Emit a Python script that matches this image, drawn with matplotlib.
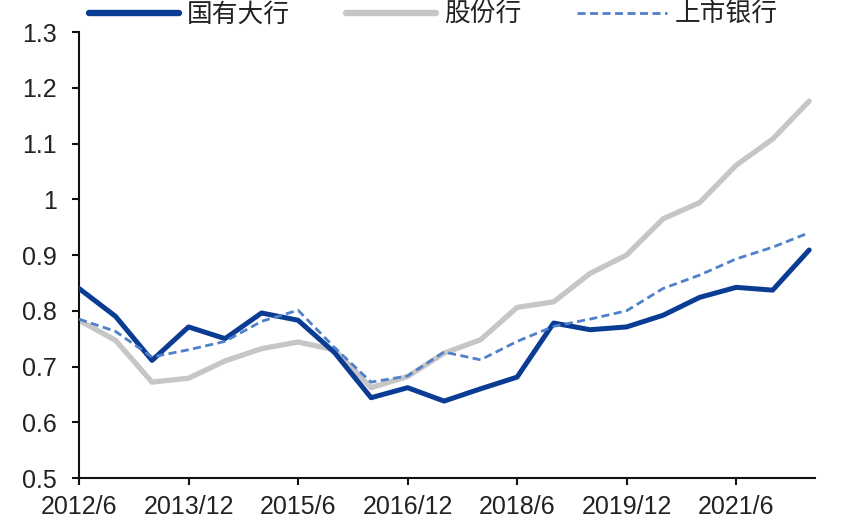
import matplotlib
matplotlib.use("Agg")
import matplotlib.pyplot as plt
from matplotlib.ticker import FixedLocator, FuncFormatter
import numpy as np

plt.rcParams['font.family'] = ['Liberation Sans', 'Noto Sans CJK SC', 'DejaVu Sans']

periods = ["2012/6", "2012/12", "2013/6", "2013/12", "2014/6", "2014/12",
           "2015/6", "2015/12", "2016/6", "2016/12", "2017/6", "2017/12",
           "2018/6", "2018/12", "2019/6", "2019/12", "2020/6", "2020/12",
           "2021/6", "2021/12", "2022/6"]
big_banks = [0.840, 0.790, 0.711, 0.771, 0.750, 0.796, 0.783, 0.725, 0.644, 0.662,
             0.638, 0.660, 0.681, 0.778, 0.766, 0.771, 0.792, 0.824, 0.842, 0.837, 0.909]
joint_stock = [0.783, 0.747, 0.672, 0.679, 0.710, 0.732, 0.744, 0.730, 0.662, 0.682,
               0.724, 0.748, 0.806, 0.816, 0.867, 0.900, 0.965, 0.994, 1.061, 1.108, 1.176]
listed_banks = [0.785, 0.763, 0.717, 0.730, 0.745, 0.781, 0.801, 0.734, 0.672, 0.683,
                0.726, 0.712, 0.745, 0.772, 0.785, 0.800, 0.840, 0.864, 0.893, 0.914, 0.940]
series_names = ["国有大行", "股份行", "上市银行"]
y_ticks = [0.5, 0.6, 0.7, 0.8, 0.9, 1.0, 1.1, 1.2, 1.3]

fig = plt.figure(figsize=(8.45, 5.3), dpi=100)
ax = fig.add_axes([0.0935, 0.0981, 0.871, 0.8415])

x = np.arange(len(periods))
l2, = ax.plot(x, joint_stock, color='#C6C6C6', lw=3.8, solid_capstyle='round',
              solid_joinstyle='round', label=series_names[1], zorder=2)
l1, = ax.plot(x, big_banks, color='#0B3C94', lw=3.6, solid_capstyle='round',
              solid_joinstyle='round', label=series_names[0], zorder=3)
l3, = ax.plot(x, listed_banks, color='#4F80C9', lw=2.0, dashes=(2.9, 1.6),
              label=series_names[2], zorder=4)

ax.set_xlim(0, 20.16)
ax.set_ylim(0.5, 1.3)
ax.xaxis.set_major_locator(FixedLocator(x[::3]))
ax.set_xticklabels(periods[::3])
ax.yaxis.set_major_locator(FixedLocator(y_ticks))
ax.yaxis.set_major_formatter(FuncFormatter(lambda v, p: ('%g' % round(v, 2))))

for s in ['top', 'right']:
    ax.spines[s].set_visible(False)
for s in ['left', 'bottom']:
    ax.spines[s].set_linewidth(1.5)
    ax.spines[s].set_color('#111111')
ax.tick_params(axis='both', direction='out', length=5, width=1.5, color='#111111',
               labelsize=18, labelcolor='#222222')
ax.tick_params(axis='y', pad=11)
ax.tick_params(axis='x', pad=7)

leg = fig.legend(handles=[l1, l2, l3], loc='center', bbox_to_anchor=(0.513, 0.972),
                 ncol=3, frameon=False, fontsize=18.5, handlelength=3.5,
                 handletextpad=0.3, columnspacing=2.2, borderaxespad=0)
lh = leg.legend_handles
lh[0].set_linewidth(4.6)
lh[1].set_linewidth(4.6)
for t in leg.get_texts():
    t.set_color('#222222')

fig.savefig('out.png', dpi=100)
